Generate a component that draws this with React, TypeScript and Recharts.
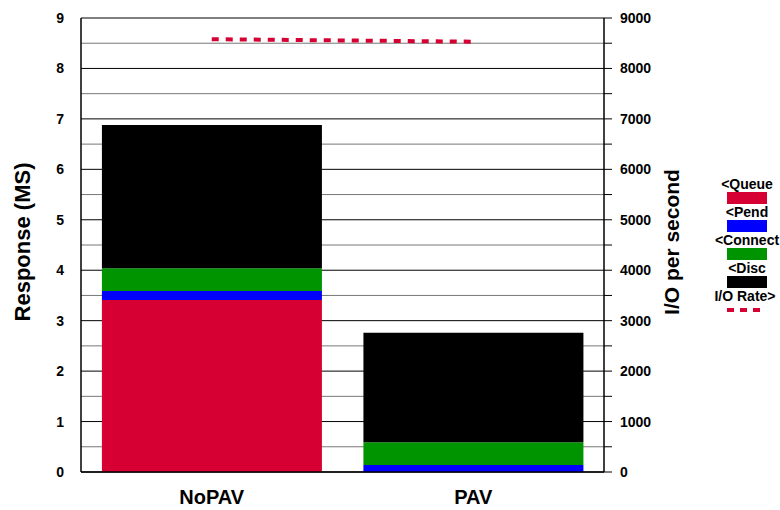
import { ComposedChart, Bar, Line, XAxis, YAxis, CartesianGrid } from "recharts";

const categories = ["NoPAV", "PAV"];
const queue = [3.41, 0];
const pend = [0.18, 0.14];
const connect = [0.45, 0.45];
const disc = [2.84, 2.17];
const ioRate = [8580, 8530];

const leftTicks = [0, 0.5, 1, 1.5, 2, 2.5, 3, 3.5, 4, 4.5, 5, 5.5, 6, 6.5, 7, 7.5, 8, 8.5, 9];
const rightTicks = [0, 500, 1000, 1500, 2000, 2500, 3000, 3500, 4000, 4500, 5000, 5500, 6000, 6500, 7000, 7500, 8000, 8500, 9000];

const FONT = '"Liberation Sans", Arial, sans-serif';

const stackSeries = [
  { key: "queue", name: "<Queue", color: "#d70032" },
  { key: "pend", name: "<Pend", color: "#0000ff" },
  { key: "connect", name: "<Connect", color: "#009400" },
  { key: "disc", name: "<Disc", color: "#000000" },
];

const data = categories.map((c, i) => ({
  name: c,
  queue: queue[i],
  pend: pend[i],
  connect: connect[i],
  disc: disc[i],
  io: ioRate[i],
}));

const tickStyle = { fill: "#000", fontSize: 14, fontWeight: 700, fontFamily: FONT };
const titleStyle = { fill: "#000", fontSize: 22, fontWeight: 700, fontFamily: FONT };

export default function App() {
  return (
    <div style={{ position: "absolute", left: 0, top: 0, width: 780, height: 510, background: "#fff", fontFamily: FONT }}>
      <ComposedChart width={780} height={510} data={data} margin={{ top: 18, right: 40, bottom: 0, left: 0 }} barCategoryGap="8%">
        <CartesianGrid
          yAxisId="left"
          vertical={false}
          horizontal={(p: any) => (
            <line
              key={`h-${p.index}`}
              x1={p.x1}
              x2={p.x2}
              y1={p.y1}
              y2={p.y2}
              stroke={p.index % 2 === 0 ? "#000" : "#777"}
              strokeWidth={1}
            />
          )}
        />
        <XAxis
          dataKey="name"
          height={38}
          axisLine={{ stroke: "#000", strokeWidth: 1.5 }}
          tickLine={false}
          tickSize={0}
          tickMargin={18}
          tick={{ fill: "#000", fontSize: 20, fontWeight: 700, fontFamily: FONT }}
        />
        <YAxis
          yAxisId="left"
          width={81}
          domain={[0, 9]}
          ticks={leftTicks}
          interval={0}
          tickFormatter={(v: number) => (Number.isInteger(v) ? String(v) : "")}
          axisLine={{ stroke: "#000", strokeWidth: 1.5 }}
          tickLine={false}
          tickSize={0}
          tickMargin={17}
          tick={tickStyle}
          label={{
            value: "Response (MS)",
            angle: -90,
            position: "center",
            dx: -18,
            dy: -3,
            style: titleStyle,
          }}
        />
        <YAxis
          yAxisId="right"
          orientation="right"
          width={136}
          domain={[0, 9000]}
          ticks={rightTicks}
          interval={0}
          tickFormatter={(v: number) => (v % 1000 === 0 ? String(v) : "")}
          axisLine={{ stroke: "#000", strokeWidth: 1.5 }}
          tickLine={{ stroke: "#000" }}
          tickSize={8}
          tickMargin={8}
          tick={tickStyle}
          label={{
            value: "I/O per second",
            angle: -90,
            position: "center",
            dy: -3,
            style: { ...titleStyle, fontSize: 21 },
          }}
        />
        {stackSeries.map((s) => (
          <Bar
            key={s.key}
            yAxisId="left"
            dataKey={s.key}
            name={s.name}
            stackId="resp"
            fill={s.color}
            isAnimationActive={false}
          />
        ))}
        <Line
          yAxisId="right"
          dataKey="io"
          name="I/O Rate>"
          stroke="#d70032"
          strokeWidth={4}
          strokeDasharray="7 7"
          dot={false}
          activeDot={false}
          isAnimationActive={false}
        />
      </ComposedChart>

      {/* Legend */}
      {stackSeries.map((s, i) => (
        <div key={s.key}>
          <div
            style={{
              position: "absolute",
              left: 707,
              width: 80,
              top: 177 + i * 28,
              textAlign: "center",
              fontSize: 14,
              fontWeight: 700,
              lineHeight: "15px",
            }}
          >
            {s.name}
          </div>
          <div style={{ position: "absolute", left: 727, top: 192 + i * 28, width: 40, height: 12, background: s.color }} />
        </div>
      ))}
      <div
        style={{
          position: "absolute",
          left: 705,
          width: 80,
          top: 177 + 4 * 28,
          textAlign: "center",
          fontSize: 14,
          fontWeight: 700,
          lineHeight: "15px",
        }}
      >
        I/O Rate&gt;
      </div>
      <svg style={{ position: "absolute", left: 727, top: 306 }} width={40} height={8}>
        <line x1={0} x2={34} y1={4} y2={4} stroke="#d70032" strokeWidth={4} strokeDasharray="7 6" />
      </svg>
    </div>
  );
}
